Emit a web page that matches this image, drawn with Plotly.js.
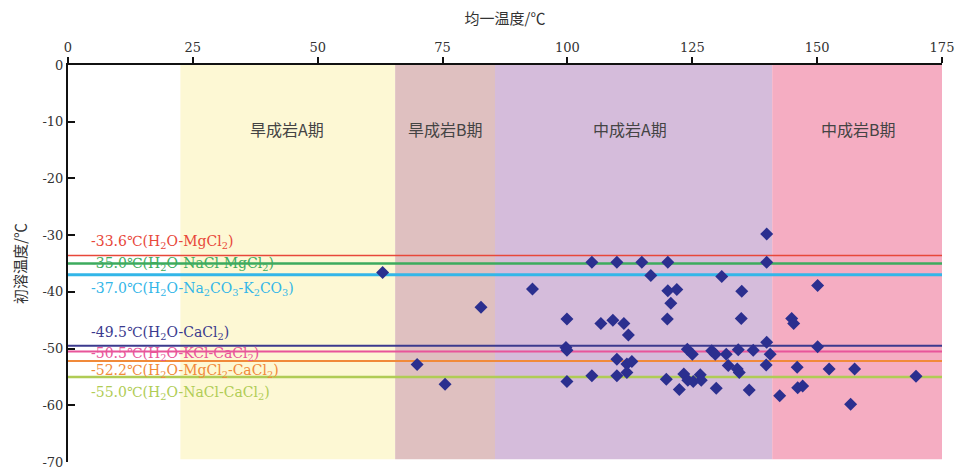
<!DOCTYPE html>
<html>
<head>
<meta charset="utf-8">
<script src="https://cdn.plot.ly/plotly-3.0.1.min.js"></script>
<style>html,body{margin:0;padding:0;background:#fff;}#chart{width:959px;height:472px;}</style>
</head>
<body>
<div id="chart"></div>
<script>
// Homogenization temperature (x) and initial melting temperature (y)
const homogTemp = [63.0, 82.7, 69.9, 75.5, 93.0, 99.9, 99.7, 99.9, 99.9, 104.9, 104.9, 106.7, 109.1, 109.9, 109.9, 109.9, 111.3, 112.2, 111.9, 112.9, 111.9, 114.9, 116.7, 120.1, 120.1, 121.9, 120.7, 120.0, 119.8, 124.0, 125.0, 123.3, 122.4, 124.1, 125.2, 126.6, 126.8, 128.9, 129.6, 129.8, 130.9, 131.8, 132.2, 134.0, 134.4, 134.2, 134.9, 134.8, 136.4, 137.2, 139.9, 139.9, 139.9, 140.6, 139.8, 142.5, 144.9, 145.3, 146.0, 146.1, 147.1, 150.1, 150.1, 152.4, 157.5, 156.7, 169.8];
const meltTemp  = [-36.6, -42.7, -52.8, -56.3, -39.5, -44.8, -49.8, -50.3, -55.8, -34.8, -54.8, -45.6, -45.0, -34.8, -51.9, -54.8, -45.6, -47.6, -52.7, -52.3, -54.2, -34.8, -37.1, -34.8, -39.8, -39.6, -42.0, -44.8, -55.4, -50.1, -51.0, -54.5, -57.2, -55.6, -55.8, -54.6, -55.6, -50.4, -51.0, -57.0, -37.3, -51.0, -53.0, -53.6, -54.2, -50.2, -39.9, -44.7, -57.3, -50.3, -29.8, -34.8, -48.9, -51.0, -52.9, -58.3, -44.7, -45.6, -53.3, -56.9, -56.6, -38.9, -49.7, -53.6, -53.6, -59.8, -54.9];

// Diagenetic stages (x ranges)
const stageNames = ["旱成岩A期", "旱成岩B期", "中成岩A期", "中成岩B期"];
const stageStart = [22.5, 65.5, 85.5, 141.0];
const stageEnd   = [65.5, 85.5, 141.0, 175.0];
const stageColors = ["#fdf8d4", "#dfc0c0", "#d5bcdb", "#f5adc2"];
const stageLabelX = [43.9, 75.6, 112.5, 158.2];
const stageLabelY = -11.2;

// Eutectic temperatures of reference systems
const eutecticT = [-33.6, -35.0, -37.0, -49.5, -50.5, -52.2, -55.0];
const eutecticLabels = [
  "-33.6℃(H<sub>2</sub>O-MgCl<sub>2</sub>)",
  "-35.0℃(H<sub>2</sub>O-NaCl-MgCl<sub>2</sub>)",
  "-37.0℃(H<sub>2</sub>O-Na<sub>2</sub>CO<sub>3</sub>-K<sub>2</sub>CO<sub>3</sub>)",
  "-49.5℃(H<sub>2</sub>O-CaCl<sub>2</sub>)",
  "-50.5℃(H<sub>2</sub>O-KCl-CaCl<sub>2</sub>)",
  "-52.2℃(H<sub>2</sub>O-MgCl<sub>2</sub>-CaCl<sub>2</sub>)",
  "-55.0℃(H<sub>2</sub>O-NaCl-CaCl<sub>2</sub>)"
];
const eutecticLabelY = [-31.2, -35.1, -39.5, -47.2, -51.0, -54.0, -57.9];
const eutecticColors = ["#e8473a", "#3dab5e", "#33b6e8", "#3b3a8e", "#e8559a", "#f18a3a", "#b0cc55"];
const eutecticWidths = [1.5, 2.5, 3, 2, 2, 2, 2.5];

const xTicks = [0, 25, 50, 75, 100, 125, 150, 175];
const yTicks = [0, -10, -20, -30, -40, -50, -60, -70];

const FONT = "DejaVu Serif, Noto Sans CJK SC, serif";
const CJK = "Noto Sans CJK SC, DejaVu Serif, serif";

const shapes = [];
stageNames.forEach((n, i) => {
  shapes.push({type: "rect", xref: "x", yref: "y", x0: stageStart[i], x1: stageEnd[i], y0: -69.5, y1: 0,
    fillcolor: stageColors[i], line: {width: 0}, layer: "below"});
});
eutecticT.forEach((t, i) => {
  shapes.push({type: "line", xref: "x", yref: "y", x0: 0, x1: 175, y0: t, y1: t,
    line: {color: eutecticColors[i], width: eutecticWidths[i]}, layer: "below"});
});

const annotations = [];
stageNames.forEach((n, i) => {
  annotations.push({x: stageLabelX[i], y: stageLabelY, xref: "x", yref: "y", text: n, showarrow: false,
    font: {family: CJK, size: 16, color: "#444"}});
});
eutecticLabels.forEach((t, i) => {
  annotations.push({x: 4.2, y: eutecticLabelY[i], xref: "x", yref: "y", text: t, showarrow: false,
    xanchor: "left", yanchor: "middle", font: {family: FONT, size: 14, color: eutecticColors[i]}});
});

const trace = {
  x: homogTemp, y: meltTemp, type: "scatter", mode: "markers",
  marker: {symbol: "diamond", size: 10, color: "#2b2f8f", line: {width: 0}},
  cliponaxis: false, hoverinfo: "x+y"
};

const layout = {
  width: 959, height: 472,
  margin: {l: 68, r: 17, t: 65, b: 10},
  paper_bgcolor: "#fff", plot_bgcolor: "#fff",
  showlegend: false,
  font: {family: FONT, size: 13, color: "#333"},
  xaxis: {
    side: "top", range: [0, 175], tickvals: xTicks, ticktext: xTicks.map(String),
    showgrid: false, zeroline: false, showline: true, linecolor: "#111", linewidth: 2,
    ticks: "outside", ticklen: 6, tickwidth: 2, tickcolor: "#111",
    tickfont: {family: FONT, size: 13, color: "#333"},
    title: {text: "均一温度/℃", font: {family: CJK, size: 15, color: "#333"}, standoff: 12},
    fixedrange: true
  },
  yaxis: {
    range: [-70, 0], tickvals: yTicks, ticktext: yTicks.map(String),
    showgrid: false, zeroline: false, showline: true, linecolor: "#111", linewidth: 2,
    ticks: "inside", ticklen: 7, tickwidth: 2, tickcolor: "#111",
    tickfont: {family: FONT, size: 13, color: "#333"},
    title: {text: "初溶温度/℃", font: {family: CJK, size: 15, color: "#333"}, standoff: 12},
    fixedrange: true
  },
  shapes: shapes,
  annotations: annotations
};

Plotly.newPlot("chart", [trace], layout, {displayModeBar: false, staticPlot: true});
</script>
</body>
</html>
